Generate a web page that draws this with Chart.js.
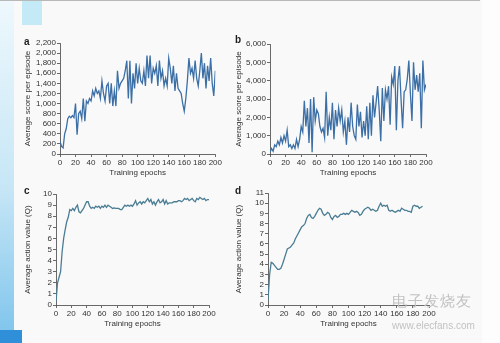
<!DOCTYPE html>
<html>
<head>
<meta charset="utf-8">
<script src="https://cdn.jsdelivr.net/npm/chart.js@4.4.1/dist/chart.umd.min.js"></script>
<style>
  html, body { margin: 0; padding: 0; }
  body { width: 500px; height: 343px; position: relative; overflow: hidden; background: #f9f9f9; font-family: "Liberation Sans", Arial, sans-serif; }
  .edge { position: absolute; left: 0; top: 0; width: 14px; height: 343px; background: linear-gradient(to bottom, #eef8fd 0%, #c6e6f6 55%, #7cc3ec 100%); }
  .edgeBottom { position: absolute; left: 0; top: 330px; width: 22px; height: 13px; background: #2f8fd9; }
  .topBlock { position: absolute; left: 22px; top: 0; width: 20px; height: 25px; background: #c4eaf8; }
  .topLine { position: absolute; left: 0; top: 0; width: 480px; height: 1px; background: #b8b8b8; }
  .rightPart { position: absolute; left: 482px; top: 0; width: 18px; height: 343px; background: #fdfdfd; }
  .panel { position: absolute; }
  .letter { position: absolute; font-weight: bold; font-size: 10px; color: #1e1e1e; }
  .wm { position: absolute; color: #c2c2c2; white-space: nowrap; }
</style>
</head>
<body>
<div class="edge"></div>
<div class="edgeBottom"></div>
<div class="topBlock"></div>
<div class="topLine"></div>
<div class="rightPart"></div>

<canvas id="chartA" class="panel" style="left:8px;top:30px;width:215px;height:152px"></canvas>
<canvas id="chartB" class="panel" style="left:222px;top:30px;width:212px;height:152px"></canvas>
<canvas id="chartC" class="panel" style="left:8px;top:180px;width:210px;height:152px"></canvas>
<canvas id="chartD" class="panel" style="left:222px;top:180px;width:215px;height:152px"></canvas>

<div class="letter" style="left:24px;top:36px">a</div>
<div class="letter" style="left:235px;top:34px">b</div>
<div class="letter" style="left:24px;top:185px">c</div>
<div class="letter" style="left:235px;top:185px">d</div>

<div class="wm" style="left:392px;top:292px;font-size:15px;letter-spacing:1px">电子发烧友</div>
<div class="wm" style="left:392px;top:320px;font-size:10px">www.elecfans.com</div>

<script>
// epochs shared by all four panels (every second epoch)
var epochs = [
  0, 2, 4, 6, 8, 10, 12, 14, 16, 18, 20, 22, 24, 26, 28, 30, 32, 34, 36, 38,
  40, 42, 44, 46, 48, 50, 52, 54, 56, 58, 60, 62, 64, 66, 68, 70, 72, 74, 76, 78,
  80, 82, 84, 86, 88, 90, 92, 94, 96, 98, 100, 102, 104, 106, 108, 110, 112, 114, 116, 118,
  120, 122, 124, 126, 128, 130, 132, 134, 136, 138, 140, 142, 144, 146, 148, 150, 152, 154, 156, 158,
  160, 162, 164, 166, 168, 170, 172, 174, 176, 178, 180, 182, 184, 186, 188, 190, 192, 194, 196, 198, 200
];

// a: average score per episode
var scoreA = [
  250, 150, 120, 400, 500, 700, 750, 720, 760, 720, 1000, 380, 800, 850, 700, 1100, 650, 1050, 1000, 1100,
  1050, 1250, 1150, 1300, 1200, 1250, 1100, 1450, 1200, 1050, 1350, 1400, 1000, 1400, 950, 1250, 950, 1650, 1300, 1400,
  1450, 1500, 1650, 1850, 1100, 1850, 1000, 1600, 1300, 1800, 1400, 1700, 1450, 1400, 1650, 1350, 1950, 1500, 1950, 1400,
  1700, 1600, 1750, 1350, 1850, 1500, 1650, 1350, 1500, 1350, 1900, 1700, 1400, 1750, 1250, 1600, 1300, 1250, 1200, 1000,
  850, 1100, 1450, 1900, 1600, 1700, 1500, 1850, 1500, 1350, 1650, 2000, 1500, 1800, 1300, 1750, 1450, 1900, 1400, 1150, 1650
];

// b: average score per episode
var scoreB = [
  100, 300, 150, 500, 400, 700, 500, 900, 600, 1000, 700, 1300, 400, 500, 300, 500, 300, 800, 400, 800,
  1500, 1200, 2900, 1500, 2500, 600, 3000, 100, 3100, 1800, 2400, 2200, 1500, 1200, 1400, 900, 3400, 1000, 2000, 1300,
  2800, 800, 2400, 1500, 2500, 1800, 2400, 1200, 1800, 500, 2000, 1200, 2800, 1500, 1000, 800, 2700, 1500, 2300, 900,
  1800, 1000, 2600, 800, 2800, 1000, 3200, 2000, 2800, 3700, 2400, 700, 3600, 1800, 3500, 3000, 3700, 1600, 4200, 3800,
  4800, 1300, 4000, 4800, 3000, 1400, 3400, 3500, 4100, 5100, 3300, 1800, 5000, 3500, 4300, 3400, 4400, 1400, 5100, 3500, 3800
];

// c: average action value (Q)
var qC = [
  0.3, 2.0, 2.5, 3.0, 4.8, 6.0, 6.8, 7.5, 7.9, 8.6, 8.5, 8.7, 8.5, 8.8, 9.0, 8.4, 8.3, 8.5, 8.7, 9.0,
  9.3, 9.3, 8.9, 8.7, 8.8, 8.7, 8.9, 8.8, 8.9, 8.7, 8.9, 8.8, 9.0, 8.8, 9.0, 8.9, 8.8, 8.7, 8.75, 8.7,
  8.7, 8.7, 8.6, 8.6, 8.8, 9.0, 8.9, 9.0, 8.9, 9.0, 8.9, 9.1, 9.4, 9.0, 9.2, 9.3, 9.1, 9.3, 9.2, 9.4,
  9.6, 9.3, 9.5, 9.1, 9.3, 9.0, 9.3, 9.5, 9.2, 9.3, 9.5, 9.1, 9.4, 9.1, 9.2, 9.2, 9.2, 9.3, 9.3, 9.3,
  9.4, 9.4, 9.3, 9.4, 9.6, 9.5, 9.6, 9.4, 9.5, 9.6, 9.4, 9.3, 9.6, 9.5, 9.7, 9.6, 9.5, 9.6, 9.4, 9.5, 9.5
];

// d: average action value (Q), ends near epoch 192
var qD = [
  0.5, 3.0, 4.2, 4.1, 3.9, 3.7, 3.5, 3.5, 3.6, 4.0, 4.5, 5.0, 5.5, 5.6, 5.7, 5.9, 6.1, 6.5, 6.8, 7.1,
  7.4, 7.7, 7.8, 8.0, 8.5, 8.8, 8.9, 8.6, 8.5, 8.7, 9.0, 9.3, 9.5, 9.4, 9.0, 8.8, 8.9, 9.1, 9.0, 8.6,
  8.4, 8.7, 8.8, 8.6, 8.7, 8.9, 8.9, 9.0, 8.9, 9.0, 8.9, 9.1, 9.3, 9.2, 9.1, 9.2, 9.1, 8.8, 8.9, 9.2,
  9.4, 9.5, 9.6, 9.5, 9.3, 9.4, 9.3, 9.2, 9.3, 9.7, 10.0, 9.7, 9.8, 9.7, 9.8, 9.3, 9.2, 9.3, 9.2, 9.1,
  9.2, 9.3, 9.2, 9.5, 9.4, 9.3, 9.3, 9.2, 9.2, 9.1, 9.7, 9.8, 9.7, 9.7, 9.5, 9.6, 9.7
];

var xTicks = [0, 20, 40, 60, 80, 100, 120, 140, 160, 180, 200];

var textColor = '#333333';
var axisColor = '#444444';
var tickFont = { family: '"Liberation Sans", Arial, sans-serif', size: 8 };

function makePanel(id, values, yMax, yStep, yTitle, color, box) {
  var points = [];
  for (var i = 0; i < values.length; i++) {
    points.push({ x: epochs[i], y: values[i] });
  }
  return new Chart(document.getElementById(id), {
    type: 'line',
    data: {
      datasets: [{
        data: points,
        borderColor: color,
        borderWidth: 1.3,
        pointRadius: 0,
        tension: 0,
        fill: false
      }]
    },
    options: {
      animation: false,
      responsive: false,
      devicePixelRatio: 1,
      layout: { padding: { top: box.top, right: box.right, left: 0, bottom: 0 } },
      plugins: { legend: { display: false }, tooltip: { enabled: false } },
      scales: {
        x: {
          type: 'linear',
          min: 0,
          max: 200,
          afterBuildTicks: function (scale) {
            scale.ticks = xTicks.map(function (v) { return { value: v }; });
          },
          afterFit: function (scale) { scale.height = box.xh; },
          grid: { display: true, drawOnChartArea: false, drawTicks: true, tickLength: 3, color: axisColor, lineWidth: 0.8 },
          border: { display: true, color: axisColor, width: 0.8 },
          ticks: { color: textColor, font: tickFont, padding: 1, maxRotation: 0, autoSkip: false },
          title: { display: true, text: 'Training epochs', color: textColor, font: tickFont, padding: { top: 0, bottom: box.xtp } }
        },
        y: {
          type: 'linear',
          min: 0,
          max: yMax,
          afterFit: function (scale) { scale.width = box.yw; },
          grid: { display: true, drawOnChartArea: false, drawTicks: true, tickLength: 3, color: axisColor, lineWidth: 0.8 },
          border: { display: true, color: axisColor, width: 0.8 },
          ticks: {
            stepSize: yStep,
            autoSkip: false,
            color: textColor,
            font: tickFont,
            padding: 1,
            callback: function (v) { return v.toLocaleString('en-US'); }
          },
          title: { display: true, text: yTitle, color: textColor, font: tickFont, padding: { top: box.ytp, bottom: 0 } }
        }
      }
    }
  });
}

function sizeCanvas(id) {
  var c = document.getElementById(id);
  c.width = parseInt(c.style.width, 10);
  c.height = parseInt(c.style.height, 10);
}
['chartA', 'chartB', 'chartC', 'chartD'].forEach(sizeCanvas);

makePanel('chartA', scoreA, 2200, 200, 'Average score per episode', '#3b6fa6',
  { top: 13, right: 7, yw: 52, xh: 28, ytp: 15, xtp: 4 });
makePanel('chartB', scoreB, 6000, 1000, 'Average score per episode', '#3b6fa6',
  { top: 14, right: 8, yw: 48, xh: 28, ytp: 12, xtp: 4 });
makePanel('chartC', qC, 10, 1, 'Average action value (Q)', '#4a7d94',
  { top: 14, right: 9, yw: 48, xh: 27, ytp: 15, xtp: 3 });
makePanel('chartD', qD, 11, 1, 'Average action value (Q)', '#4a7d94',
  { top: 13, right: 8, yw: 46, xh: 27, ytp: 12, xtp: 3 });
</script>
</body>
</html>
